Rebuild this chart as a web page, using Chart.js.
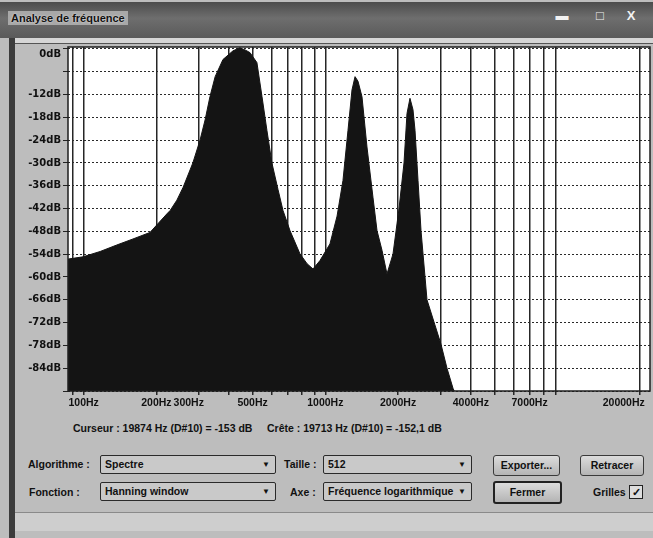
<!DOCTYPE html>
<html>
<head>
<meta charset="utf-8">
<script src="https://cdn.jsdelivr.net/npm/chart.js"></script>
<style>
  html, body { margin: 0; padding: 0; background: #fff; }
  #win { position: relative; width: 653px; height: 538px; overflow: hidden; background: #bdbdbd; font-family: "Liberation Sans", sans-serif; color: #111; }
  #titlebar { position: absolute; left: 0; top: 2px; width: 653px; height: 36px; background: linear-gradient(#4c4c4c, #6e6e6e 45%, #5a5a5a); }
  #titletext { position: absolute; left: 8px; top: 9px; padding: 1px 3px; font-size: 11px; font-weight: bold; color: #111; background: #a8a8a8; text-shadow: 0 0 2px #eee; }
  .wbtn { position: absolute; top: 6px; height: 16px; color: #f2f2f2; font-weight: bold; font-size: 13px; text-align: center; line-height: 16px; }
  #leftbar { position: absolute; left: 9px; top: 38px; width: 6px; height: 500px; background: #3c3c3c; }
  #topstrip { position: absolute; left: 15px; top: 38px; width: 638px; height: 5px; background: #d6d6d6; border-bottom: 1px solid #555; }
  #spec { position: absolute; left: 0; top: 40px; }
  .lbl { position: absolute; font-size: 10.5px; font-weight: bold; white-space: nowrap; }
  .status { position: absolute; top: 422px; font-size: 10.5px; font-weight: bold; white-space: nowrap; }
  .combo { position: absolute; height: 17px; border: 1px solid #2a2a2a; border-radius: 2px; background: #c9c9c9; font-size: 10.5px; font-weight: bold; line-height: 17px; padding-left: 4px; box-sizing: content-box; white-space: nowrap; overflow: hidden; }
  .combo .arr { position: absolute; right: 5px; top: 0; font-size: 8px; }
  .btn { position: absolute; height: 19px; border: 1px solid #3a3a3a; border-radius: 3px; background: linear-gradient(#dcdcdc, #b4b4b4); font-size: 10.5px; font-weight: bold; text-align: center; line-height: 19px; }
  #statusbar { position: absolute; left: 15px; top: 512px; width: 638px; height: 18px; background: #cecece; border-top: 1px solid #8a8a8a; }
  #chk { position: absolute; left: 629px; top: 485px; width: 12px; height: 12px; border: 1px solid #222; background: #ddd; font-size: 11px; line-height: 12px; text-align: center; font-weight: bold; }
</style>
</head>
<body>
<div id="win">
  <div id="titlebar">
    <div id="titletext">Analyse de fréquence</div>
    <div class="wbtn" style="left:548px;width:28px;">&#9644;</div>
    <div class="wbtn" style="left:590px;width:20px;">&#9633;</div>
    <div class="wbtn" style="left:620px;width:22px;">X</div>
  </div>
  <div id="topstrip"></div>
  <div id="leftbar"></div>
  <canvas id="spec" width="653" height="376"></canvas>

  <div class="status" style="left:73px;">Curseur : 19874 Hz (D#10) = -153 dB</div>
  <div class="status" style="left:267px;">Crête : 19713 Hz (D#10) = -152,1 dB</div>

  <div class="lbl" style="left:28px;top:458px;">Algorithme :</div>
  <div class="combo" style="left:100px;top:455px;width:170px;">Spectre<span class="arr">&#9660;</span></div>
  <div class="lbl" style="left:284px;top:458px;">Taille :</div>
  <div class="combo" style="left:323px;top:455px;width:143px;">512<span class="arr">&#9660;</span></div>
  <div class="btn" style="left:493px;top:455px;width:65px;">Exporter...</div>
  <div class="btn" style="left:580px;top:455px;width:62px;">Retracer</div>

  <div class="lbl" style="left:29px;top:486px;">Fonction :</div>
  <div class="combo" style="left:100px;top:482px;width:170px;">Hanning window<span class="arr">&#9660;</span></div>
  <div class="lbl" style="left:290px;top:486px;">Axe :</div>
  <div class="combo" style="left:323px;top:482px;width:143px;">Fréquence logarithmique<span class="arr">&#9660;</span></div>
  <div class="btn" style="left:493px;top:481px;width:65px;border:2px solid #222;">Fermer</div>
  <div class="lbl" style="left:593px;top:486px;">Grilles</div>
  <div id="chk">&#10003;</div>

  <div id="statusbar"></div>
</div>

<script>
// spectrum (Hz, dB)
const spectrumHz = [86.1, 99.4, 117, 137, 160, 188, 221, 228, 243, 258, 283, 303, 318, 333, 350, 377, 415, 443, 470, 488, 521, 547, 573, 601, 637, 668, 714, 785, 840, 889, 950, 1045, 1118, 1183, 1241, 1289, 1327, 1365, 1418, 1487, 1574, 1636, 1716, 1799, 1905, 2018, 2116, 2177, 2240, 2305, 2350, 2418, 2488, 2634, 3010, 3187, 3375, 3472];
const spectrumDb = [-55.3, -54.7, -53.3, -51.6, -50, -48.3, -43.4, -42.5, -39.8, -36.4, -30, -24, -18.7, -12.6, -7.3, -2.8, -0.5, 0.3, -0.4, -1, -3.6, -12.6, -21.4, -30, -37, -42.5, -47.8, -53.9, -56.5, -57.9, -55.7, -51.3, -44, -34.6, -21.4, -10.8, -7.3, -8.5, -12.6, -25.8, -39, -47.8, -53, -59.2, -54, -42, -30, -17, -13, -16, -21.4, -34.6, -47.8, -66, -77.7, -84, -89.3, -91];

// axes
const freqMin = 86.13;
const freqMax = 22050;
const freqGrid = [90, 100, 200, 300, 400, 500, 600, 700, 800, 900, 1000, 2000, 3000, 4000, 5000, 6000, 7000, 8000, 9000, 20000];
const freqLabels = [100, 200, 300, 500, 1000, 2000, 4000, 7000, 20000];
const dbGrid = [-90, -84, -78, -72, -66, -60, -54, -48, -42, -36, -30, -24, -18, -12, -6, 0];
const dbLabels = [0, -12, -18, -24, -30, -36, -42, -48, -54, -60, -66, -72, -78, -84];

// labels nudged left like the original ruler does
const labelShift = { 300: '       ', 20000: '           ' };

const framePlugin = {
    id: 'frame',
    beforeDraw(chart) {
        const a = chart.chartArea;
        const ctx = chart.ctx;
        ctx.save();
        ctx.fillStyle = '#ffffff';
        ctx.fillRect(a.left, a.top, a.right - a.left, a.bottom - a.top);
        ctx.restore();
    },
    afterDraw(chart) {
        const a = chart.chartArea;
        const ctx = chart.ctx;
        ctx.save();
        ctx.strokeStyle = '#1e1e1e';
        ctx.lineWidth = 1.5;
        ctx.strokeRect(a.left, a.top, a.right - a.left, a.bottom - a.top);
        ctx.restore();
    }
};

new Chart(document.getElementById('spec'), {
    type: 'line',
    data: {
        datasets: [{
            data: spectrumHz.map((f, i) => ({ x: f, y: spectrumDb[i] })),
            borderColor: '#141414',
            backgroundColor: '#141414',
            borderWidth: 1,
            pointRadius: 0,
            fill: 'start',
            tension: 0
        }]
    },
    options: {
        responsive: false,
        animation: false,
        events: [],
        layout: { padding: { top: 7, right: 3, left: 0, bottom: 0 } },
        plugins: { legend: { display: false }, tooltip: { enabled: false } },
        scales: {
            x: {
                type: 'logarithmic',
                min: freqMin,
                max: freqMax,
                afterBuildTicks: s => { s.ticks = freqGrid.map(v => ({ value: v })); },
                afterFit: s => { s.height = 25; s.paddingLeft = 0; s.paddingRight = 0; },
                grid: { color: '#262626', lineWidth: 1.5, tickLength: 4, tickColor: '#262626' },
                border: { display: false },
                ticks: {
                    autoSkip: false, maxRotation: 0, minRotation: 0, padding: 2,
                    color: '#111', font: { family: 'Liberation Sans', size: 10.5, weight: 'bold' },
                    callback: v => freqLabels.includes(v) ? v + 'Hz' + (labelShift[v] || '') : ''
                }
            },
            y: {
                min: -90,
                max: 0.5,
                afterBuildTicks: s => { s.ticks = dbGrid.map(v => ({ value: v })); },
                afterFit: s => { s.width = 68; s.paddingTop = 0; s.paddingBottom = 0; },
                grid: { color: '#2a2a2a', lineWidth: 1, tickLength: 5, tickColor: '#222' },
                border: { display: false, dash: [2, 2] },
                ticks: {
                    autoSkip: false, padding: 2, color: '#111',
                    font: { family: 'DejaVu Sans', size: 10, weight: 'bold' },
                    callback: v => v === 0 ? ['', '0dB'] : (dbLabels.includes(v) ? v + 'dB' : '')
                }
            }
        }
    },
    plugins: [framePlugin]
});
</script>
</body>
</html>
